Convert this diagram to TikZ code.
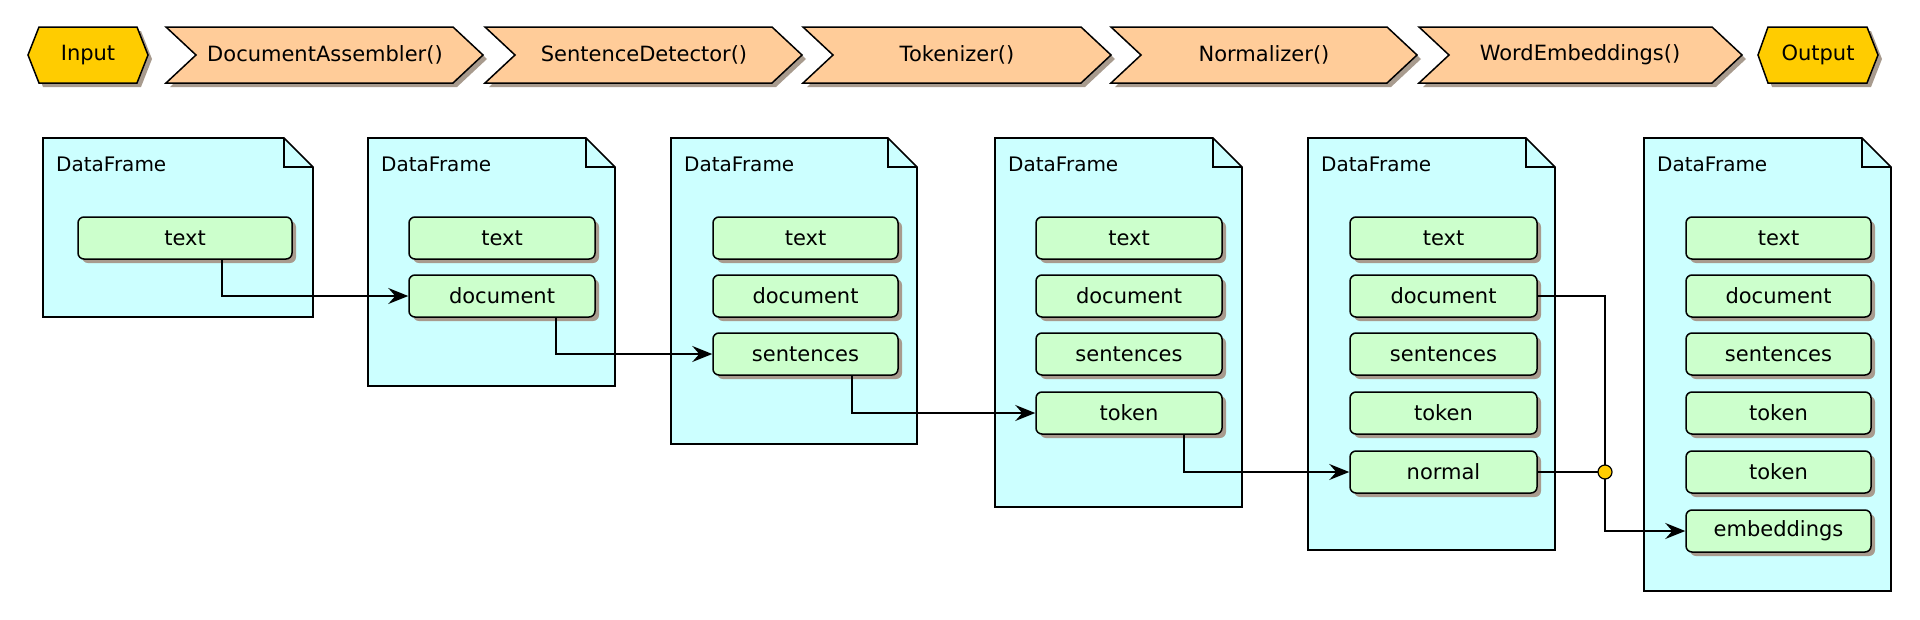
\documentclass[tikz,border=0pt]{standalone}
\usepackage{fontspec}
\setmainfont{DejaVu Sans}
\usetikzlibrary{arrows.meta,shadows,calc}
\definecolor{dfcyan}{HTML}{CCFFFF}
\definecolor{boxgreen}{HTML}{CCFFCC}
\definecolor{peach}{HTML}{FFCC99}
\definecolor{gold}{HTML}{FFCC00}
\definecolor{shadowc}{RGB}{168,155,142}
\newcommand{\fsA}{\fontsize{21}{24}\selectfont}
\newcommand{\fsB}{\fontsize{20}{24}\selectfont}
\tikzset{
  shad/.style={drop shadow={shadow xshift=4pt, shadow yshift=-4pt, fill=shadowc, opacity=1}},
  stepshape/.style={draw, line width=1.5pt, fill=peach, line join=miter, shad},
  ioshape/.style={draw, line width=1.5pt, fill=gold, line join=miter, shad},
  steptext/.style={font=\fsA, inner sep=0pt},
  dfshape/.style={draw, line width=1.6pt, fill=dfcyan, line join=miter},
  dffold/.style={draw, line width=1.6pt, line join=miter},
  dflabel/.style={font=\fsB, inner sep=0pt, anchor=base west},
  fbox/.style={draw, line width=1.5pt, fill=boxgreen, rounded corners=6pt,
    minimum height=42pt, inner sep=0pt, font=\fsA, shad},
  conn/.style={draw, line width=1.4pt},
  arr/.style={conn, -{Stealth[length=20pt, width=16pt, inset=7pt]}},
  jdot/.style={circle, draw, line width=1.2pt, fill=gold, minimum size=14pt, inner sep=0pt},
}
\begin{document}
\begin{tikzpicture}[x=1pt, y=-1pt]
\useasboundingbox (0,0) rectangle (1920,619);

% ---------- top pipeline ----------
\path[ioshape] (28,55) -- (39,27) -- (137,27) -- (148,55) -- (137,83) -- (39,83) -- cycle;
\node[steptext] (input) at (88,55) {Input};

\path[stepshape] (166,27) -- (453,27) -- (483,55) -- (453,83) -- (166,83) -- (196,55) -- cycle;
\node[steptext] (s1) at (325,55) {DocumentAssembler()};

\path[stepshape] (485,27) -- (772,27) -- (802,55) -- (772,83) -- (485,83) -- (515,55) -- cycle;
\node[steptext] (s2) at (644,55) {SentenceDetector()};

\path[stepshape] (803,27) -- (1081,27) -- (1111,55) -- (1081,83) -- (803,83) -- (833,55) -- cycle;
\node[steptext] (s3) at (957,55) {Tokenizer()};

\path[stepshape] (1111,27) -- (1387,27) -- (1417,55) -- (1387,83) -- (1111,83) -- (1141,55) -- cycle;
\node[steptext] (s4) at (1264,55) {Normalizer()};

\path[stepshape] (1419,27) -- (1712,27) -- (1742,55) -- (1712,83) -- (1419,83) -- (1449,55) -- cycle;
\node[steptext] (s5) at (1580,55) {WordEmbeddings()};

\path[ioshape] (1758,55) -- (1768,27) -- (1867,27) -- (1878,55) -- (1867,83) -- (1768,83) -- cycle;
\node[steptext] (output) at (1818,55) {Output};

% ---------- DataFrames ----------
% #1 left, #2 right, #3 bottom, #4 name
\newcommand{\dframe}[4]{%
  \path[dfshape] (#1,138) -- ({#2-29},138) -- (#2,167) -- (#2,#3) -- (#1,#3) -- cycle;
  \path[dffold] ({#2-29},138) -- ({#2-29},167) -- (#2,167);
  \node[dflabel] (#4) at ({#1+13},171) {DataFrame};
}
\dframe{43}{313}{317}{df1}
\dframe{368}{615}{386}{df2}
\dframe{671}{917}{444}{df3}
\dframe{995}{1242}{507}{df4}
\dframe{1308}{1555}{550}{df5}
\dframe{1644}{1891}{591}{df6}

% ---------- fields ----------
\node[fbox, minimum width=214pt] (t1) at (185,238) {text};

\node[fbox, minimum width=186pt] (t2) at (502,238) {text};
\node[fbox, minimum width=186pt] (d2) at (502,296) {document};

\node[fbox, minimum width=185pt] (t3) at (805.5,238) {text};
\node[fbox, minimum width=185pt] (d3) at (805.5,296) {document};
\node[fbox, minimum width=185pt] (s3f) at (805.5,354) {sentences};

\node[fbox, minimum width=186pt] (t4) at (1129,238) {text};
\node[fbox, minimum width=186pt] (d4) at (1129,296) {document};
\node[fbox, minimum width=186pt] (s4f) at (1129,354) {sentences};
\node[fbox, minimum width=186pt] (k4) at (1129,413) {token};

\node[fbox, minimum width=187pt] (t5) at (1443.5,238) {text};
\node[fbox, minimum width=187pt] (d5) at (1443.5,296) {document};
\node[fbox, minimum width=187pt] (s5f) at (1443.5,354) {sentences};
\node[fbox, minimum width=187pt] (k5) at (1443.5,413) {token};
\node[fbox, minimum width=187pt] (n5) at (1443.5,472) {normal};

\node[fbox, minimum width=185pt] (t6) at (1778.5,238) {text};
\node[fbox, minimum width=185pt] (d6) at (1778.5,296) {document};
\node[fbox, minimum width=185pt] (s6f) at (1778.5,354) {sentences};
\node[fbox, minimum width=185pt] (k6) at (1778.5,413) {token};
\node[fbox, minimum width=185pt] (k6b) at (1778.5,472) {token};
\node[fbox, minimum width=185pt] (e6) at (1778.5,531) {embeddings};

% ---------- connectors ----------
\coordinate (x1) at (222,0);
\coordinate (x2) at (556,0);
\coordinate (x3) at (852,0);
\coordinate (x4) at (1184,0);
\coordinate (j) at (1605,472);

\draw[arr] (t1.south -| x1) |- (d2.west);
\draw[arr] (d2.south -| x2) |- (s3f.west);
\draw[arr] (s3f.south -| x3) |- (k4.west);
\draw[arr] (k4.south -| x4) |- (n5.west);
\draw[arr] (d5.east) -- (d5.east -| j) |- (e6.west);
\draw[conn] (n5.east) -- (j);
\node[jdot] (jd) at (j) {};
\end{tikzpicture}
\end{document}
